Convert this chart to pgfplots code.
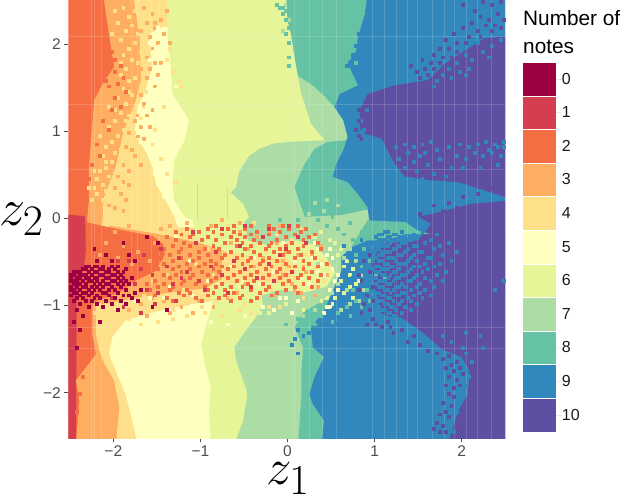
\documentclass[border=0pt]{standalone}
\usepackage{fontspec}
\setmainfont{Liberation Sans}
\usepackage{pgfplots}
\pgfplotsset{compat=1.18}
\definecolor{c0}{HTML}{9E0142}
\definecolor{c1}{HTML}{D53E4F}
\definecolor{c2}{HTML}{F46D43}
\definecolor{c3}{HTML}{FDAE61}
\definecolor{c4}{HTML}{FEE08B}
\definecolor{c5}{HTML}{FFFFBF}
\definecolor{c6}{HTML}{E6F598}
\definecolor{c7}{HTML}{ABDDA4}
\definecolor{c8}{HTML}{66C2A5}
\definecolor{c9}{HTML}{3288BD}
\definecolor{c10}{HTML}{5E4FA2}
\pgfplotsset{
  region/.style={fill=#1,draw=none,forget plot},
  % speckles are given as raster cells: 150 x 150 over -2.5..2.5
  speck/.style={only marks,mark=square*,mark size=1.45pt,color=#1,
    mark options={draw=#1,fill=#1,line width=0pt},forget plot,
    x filter/.expression={x/30-2.5+0.0167},y filter/.expression={y/30-2.5+0.0167}},
  stripe/.style={draw=white,opacity=0.16,line width=0.8pt,forget plot,unbounded coords=jump},
}
\begin{document}
\begin{tikzpicture}
\path[use as bounding box] (-68.3pt,-58pt) rectangle (555.7pt,438pt);
\begin{axis}[
  scale only axis,width=436.9pt,height=438pt,
  xmin=-2.517,xmax=2.5,ymin=-2.52,ymax=2.51,
  axis x line*=bottom,axis y line*=left,axis line style={draw=none},
  xtick={-2,-1,0,1,2},ytick={-2,-1,0,1,2},
  xticklabels={−2,−1,0,1,2},yticklabels={−2,−1,0,1,2},
  tick align=outside,major tick length=4pt,
  tick style={draw=black!70,line width=1pt},
  tick label style={font=\fontsize{15.5}{16}\selectfont,text=black!70},
  xlabel={$z_1$},ylabel={$z_2$},
  xlabel style={font=\Huge,scale=2.05,at={(axis description cs:0.503,-0.04)},anchor=north},
  ylabel style={font=\Huge,scale=2.1,rotate=-90,at={(axis description cs:-0.107,0.50)},anchor=center},
  legend style={at={(axis description cs:1.0407,0.856)},anchor=north west,draw=none,fill=none,
    inner sep=0pt,outer sep=0pt,row sep=1.1pt,
    font=\fontsize{16}{16}\selectfont,
    nodes={inner sep=0pt,anchor=west,text=black!90}},
  legend cell align=left,
  legend image code/.code={\fill[#1,draw=none] (0pt,-16.25pt) rectangle (33.5pt,16.25pt);\path[draw=none] (0pt,0pt) -- (39pt,0pt);},
]
% colour regions, painted left to right
\addplot[region=c2] coordinates {(-2.6,-2.6)(-2.6,2.6)(2.6,2.6)(2.6,-2.6)};
\addplot[region=c1] coordinates {(-2.6,0.05)(-2.33,0.03)(-2.30,-0.25)(-2.33,-0.5)(-2.42,-0.9)(-2.43,-2.6)(-2.6,-2.6)};
\addplot[region=c3] coordinates {(-2.12,2.6)(-2.05,2.12)(-1.99,1.74)(-2.12,1.55)(-2.22,1.36)(-2.25,0.97)(-2.28,0.59)(-2.28,0.21)(-2.30,0)(-2.24,-0.5)(-2.24,-1.33)(-2.2,-1.56)(-2.43,-1.86)(-2.39,-2.09)(-2.43,-2.6)(2.6,-2.6)(2.6,2.6)};
\addplot[region=c4] coordinates {(-1.78,2.6)(-1.70,2.12)(-1.68,1.59)(-1.74,1.36)(-1.89,0.97)(-1.97,0.59)(-2.12,0.21)(-2.12,0)(-2.2,-0.6)(-2.2,-1.33)(-2.16,-1.52)(-2.10,-1.67)(-1.99,-1.86)(-1.93,-2.17)(-1.97,-2.6)(2.6,-2.6)(2.6,2.6)};
\addplot[region=c5] coordinates {(-1.43,2.2)(-1.59,2.12)(-1.55,1.74)(-1.63,1.47)(-1.72,1.28)(-1.76,0.97)(-1.63,0.78)(-1.55,0.59)(-1.51,0.40)(-1.40,0.21)(-1.30,0.02)(-1.26,-0.1)(2.6,-0.1)(2.6,2.2)};
\addplot[region=c5] coordinates {(-0.82,-0.94)(-1.09,-0.98)(-1.47,-1.06)(-1.86,-1.17)(-2.01,-1.36)(-2.05,-1.56)(-1.97,-1.75)(-1.86,-2.02)(-1.78,-2.32)(-1.72,-2.6)(2.6,-2.6)(2.6,-0.94)};
\addplot[region=c6] coordinates {(-1.38,2.6)(-1.38,2.12)(-1.34,1.74)(-1.32,1.43)(-1.22,1.28)(-1.13,1.13)(-1.18,0.90)(-1.30,0.67)(-1.32,0.40)(-1.30,0.21)(-1.18,0.02)(-1.09,-0.02)(-0.86,-0.98)(-0.94,-1.25)(-0.99,-1.44)(-0.95,-1.67)(-0.88,-1.94)(-0.90,-2.21)(-0.88,-2.6)(2.6,-2.6)(2.6,2.6)};
\addplot[region=c7] coordinates {(0.43,0.90)(0.27,1.09)(0.16,1.43)(0.12,1.64)(2.6,1.64)(2.6,-2.6)(-0.61,-2.6)(-0.51,-2.32)(-0.46,-2.02)(-0.48,-1.94)(-0.59,-1.63)(-0.61,-1.48)(-0.51,-1.33)(-0.36,-1.13)(-0.28,-0.98)(-0.5,-0.05)(-0.44,0.02)(-0.51,0.17)(-0.65,0.30)(-0.59,0.36)(-0.55,0.55)(-0.44,0.72)(-0.32,0.80)(-0.17,0.86)(0.02,0.88)};
\addplot[region=c8] coordinates {(0.69,0.90)(0.46,0.88)(0.31,0.80)(0.20,0.63)(0.16,0.55)(0.08,0.36)(0.16,0.13)(0.20,0.02)(0.62,0.04)(0.89,0.10)(1.2,0.1)(1.2,0.9)};
\addplot[region=c8] coordinates {(-0.02,2.6)(0,2.28)(0.04,2.12)(0.08,1.86)(0.12,1.64)(0.29,1.53)(0.43,1.40)(0.54,1.28)(1.2,1.2)(1.2,2.6)};
\addplot[region=c8] coordinates {(0.50,-0.90)(0.20,-1.06)(0.08,-1.25)(0.18,-1.48)(0.16,-1.75)(0.16,-2.02)(0.14,-2.32)(0.12,-2.6)(1,-2.6)(1,-0.9)};
\addplot[region=c9] coordinates {(0.92,2.6)(0.89,2.35)(0.81,2.09)(0.79,1.93)(0.69,1.78)(0.73,1.70)(0.81,1.53)(0.60,1.43)(0.54,1.28)(0.64,1.13)(0.69,0.94)(0.64,0.78)(0.56,0.63)(0.52,0.48)(0.69,0.42)(0.81,0.28)(0.92,0.13)(0.96,-0.22)(0.73,-0.33)(0.62,-0.44)(0.62,-0.6)(0.42,-1.06)(0.27,-1.25)(0.29,-1.48)(0.42,-1.59)(0.31,-1.82)(0.25,-2.02)(0.29,-2.13)(0.42,-2.32)(0.39,-2.6)(2.6,-2.6)(2.6,2.6)};
\addplot[region=c10] coordinates {(2.6,2.10)(2.26,2.07)(2.04,1.93)(1.81,1.78)(1.61,1.59)(1.23,1.53)(0.92,1.43)(0.83,1.24)(0.83,1.03)(0.90,0.97)(1.08,0.92)(1.23,0.63)(1.35,0.48)(1.65,0.44)(1.96,0.42)(2.49,0.25)(2.6,0.24)};
\addplot[region=c10] coordinates {(2.6,0.21)(2.11,0.17)(1.81,0.09)(1.50,0.02)(1.65,-0.06)(1.50,-0.25)(1.08,-0.29)(0.96,-0.52)(1.0,-0.79)(1.08,-1.10)(1.33,-1.15)(1.58,-1.33)(1.77,-1.50)(2.0,-1.59)(2.09,-1.75)(2.07,-2.02)(1.96,-2.21)(1.84,-2.6)(2.6,-2.6)};
\addplot[region=c8] coordinates {(0.92,-0.02)(1.35,-0.04)(1.50,-0.14)(1.65,-0.18)(1.35,-0.18)(1.12,-0.25)(0.92,-0.25)(0.73,-0.33)};
% the note band around z2 = -0.5
\addplot[region=c6] coordinates {(-0.7,-0.2)(-0.25,-0.3)(0.1,-0.25)(0.3,-0.3)(0.45,-0.45)(0.55,-0.62)(0.45,-0.78)(0.2,-0.85)(-0.1,-0.82)(-0.35,-0.9)(-0.7,-0.85)};
\addplot[region=c3] coordinates {(-2.05,-0.08)(-1.47,-0.18)(-1.01,-0.28)(-0.71,-0.38)(-0.55,-0.48)(-0.71,-0.67)(-0.94,-0.80)(-1.36,-0.85)(-1.78,-0.92)(-2.12,-0.98)(-2.24,-0.95)};
\addplot[region=c4] coordinates {(-0.75,-0.38)(-0.3,-0.45)(0,-0.45)(0.1,-0.6)(0,-0.75)(-0.3,-0.72)(-0.75,-0.75)};
\addplot[region=c2] coordinates {(-2.32,-0.04)(-2.05,-0.10)(-1.86,-0.14)(-1.55,-0.20)(-1.43,-0.29)(-1.41,-0.41)(-1.51,-0.60)(-1.74,-0.71)(-1.93,-0.85)(-2.2,-0.95)(-2.28,-1.02)(-2.31,-0.79)};
% faint stripes of the raster
\addplot[stripe] coordinates {(-2.25,-3)(-2.25,3)(0,nan)(-2.22,-3)(-2.22,3)(0,nan)(-2.14,-3)(-2.14,3)(0,nan)(-1.79,-3)(-1.79,3)(0,nan)(-1.72,-3)(-1.72,3)(0,nan)(-1.56,-3)(-1.56,3)(0,nan)(-1.47,-3)(-1.47,3)(0,nan)(0.08,-3)(0.08,3)(0,nan)(0.25,-3)(0.25,3)(0,nan)(0.40,-3)(0.40,3)(0,nan)(0.56,-3)(0.56,3)(0,nan)(0.98,-3)(0.98,3)(0,nan)(1.11,-3)(1.11,3)(0,nan)(1.25,-3)(1.25,3)(0,nan)(1.38,-3)(1.38,3)(0,nan)(1.49,-3)(1.49,3)(0,nan)(1.66,-3)(1.66,3)(0,nan)(1.80,-3)(1.80,3)(0,nan)(1.92,-3)(1.92,3)(0,nan)(2.06,-3)(2.06,3)(0,nan)(2.18,-3)(2.18,3)(0,nan)(2.34,-3)(2.34,3)};
\addplot[stripe] coordinates {(-3,2.09)(3,2.09)(0,nan)(-3,1.31)(3,1.31)(0,nan)(-3,0.56)(3,0.56)(0,nan)(-3,-1.25)(3,-1.25)(0,nan)(-3,-1.49)(3,-1.49)};
\addplot[draw=c3,opacity=0.5,line width=0.8pt,forget plot] coordinates {(-1.03,0)(-1.03,0.4)};
\addplot[draw=c3,opacity=0.5,line width=0.8pt,forget plot] coordinates {(-0.69,0)(-0.69,0.35)};
% speckles
\addplot[speck=c4] coordinates {(18,147)(20,144)(16,142)(21,141)(19,139)(23,138)(17,136)(22,135)(20,133)(24,132)(18,131)(21,129)(23,128)(19,126)(25,125)(17,124)(22,123)(20,122)(24,120)(18,119)(26,118)(21,117)(16,116)(23,115)(19,114)(25,113)(22,112)(17,111)(20,110)(24,109)(15,108)(21,107)(13,106)(18,105)(22,104)(16,103)(20,102)(14,101)(19,100)(12,99)(17,98)(15,97)(11,96)(18,95)(14,94)(16,93)(12,92)(10,91)(15,90)(13,89)(9,88)(14,87)(11,86)(8,85)(12,84)(9,83)(13,82)(7,81)(34,133)(33,129)(35,125)(37,122)(38,120)(32,113)(29,105)(28,100)(31,95)(33,90)(36,87)(15,146)(14,138)(22,146)(17,128)(20,118)(13,113)(15,112)(19,108)(10,103)(23,100)(12,94)(8,91)(17,89)(6,85)(11,81)(16,84)};
\addplot[speck=c3] coordinates {(25,147)(28,145)(31,143)(26,142)(29,140)(32,138)(27,137)(30,135)(28,133)(26,130)(29,128)(27,126)(30,124)(26,123)(24,117)(27,118)(25,114)(23,110)(26,110)(22,108)(24,106)(20,104)(23,103)(19,99)(21,98)(18,93)(20,91)(16,89)(18,87)(15,85)(17,83)(13,79)(15,78)(33,146)(29,142)(24,139)(34,135)(31,128)(24,126)(29,120)(28,112)(27,106)(25,102)(22,96)(24,93)(20,86)(19,81)(18,77)};
\addplot[speck=c5] coordinates {(30,140)(29,137)(27,135)(31,134)(28,132)(30,130)(27,129)(32,127)(29,126)(31,123)(28,122)(33,121)(30,119)(27,118)(34,120)(36,120)(26,113)(24,110)(25,107)(23,104)(24,101)(26,98)(28,96)(30,93)(29,90)(31,88)(33,85)(32,82)};
\addplot[speck=c2] coordinates {(14,132)(15,129)(17,127)(15,125)(18,123)(16,121)(13,120)(19,118)(15,116)(17,113)(14,112)(11,108)(13,105)(9,100)(10,96)(7,93)(6,88)(12,122)(3,14)(2,8)(4,20)};
% band: cells with 3 notes over the solid part
\addplot[speck=c3] coordinates {(15,70)(20,72)(26,68)(31,71)(12,66)(18,65)(23,63)(29,66)(34,64)(10,62)(16,61)(21,59)(27,60)(32,58)(36,62)(68,70)(71,66)(74,63)(77,60)(80,58)(83,62)(86,65)(79,55)(73,55)(76,52)(79,49)(82,54)(85,51)(88,55)(70,48)(67,57)(64,68)(61,64)(58,70)(55,66)(72,72)(66,61)(63,58)(60,52)(57,49)(54,47)(77,50)(75,58)(78,62)(81,56)(76,56)(73,60)(84,48)(24,45)(28,47)(32,46)(38,44)(44,46)(49,44)(20,43)(26,41)(34,42)(42,42)(48,72)(52,74)(40,73)(34,72)(58,73)};
\addplot[speck=c4] coordinates {(25,48)(30,44)(35,43)(40,45)(45,44)(50,46)(55,47)(60,45)(65,47)(28,53)(33,55)(39,50)(43,59)(47,64)(52,68)(57,62)(61,58)(67,63)(72,59)(76,67)(70,64)(69,60)(73,57)(75,66)(81,62)(84,57)(87,53)(89,58)(78,50)(74,52)(69,50)(64,56)(56,52)(49,55)(44,70)(54,72)(63,73)(71,69)(79,71)(40,41)(46,42)(52,41)(58,43)(30,39)(24,38)(20,40)(15,37)(35,40)(62,42)(68,44)(12,40)(8,42)(17,43)(83,68)(86,60)(77,54)(80,47)(72,44)};
\addplot[speck=c5] coordinates {(22,46)(27,47)(32,47)(37,49)(42,48)(53,50)(59,53)(65,52)(70,56)(77,60)(83,61)(87,55)(90,61)(85,56)(82,52)(86,59)(88,62)(89,50)(91,53)(92,55)(47,53)(41,60)(34,51)(36,68)(55,58)(63,61)(73,66)(79,54)(74,47)(78,46)(72,47)(66,44)(60,41)(54,38)(48,39)(42,38)(38,36)(16,33)(20,35)(26,36)(85,64)(89,64)(84,66)(90,57)(92,50)(76,42)(70,43)(87,42)(88,44)(89,44)};
\addplot[speck=c6] coordinates {(70,64)(76,63)(82,58)(84,68)(92,62)(94,58)(96,55)(95,60)(93,53)(91,47)(94,49)(96,51)(98,52)(97,47)(90,45)(88,47)(86,46)(80,43)(74,45)(68,42)(65,42)(93,64)(91,66)(97,57)(89,67)(86,70)(99,53)};
\addplot[speck=c7] coordinates {(78,48)(83,47)(85,46)(87,48)(90,49)(94,61)(92,65)(88,68)(83,71)(80,72)(76,70)(85,59)(92,52)(95,50)(96,45)(93,43)(84,43)(80,41)(100,55)(98,60)(96,64)(101,50)(99,46)(84,80)(88,81)(92,79)(82,76)(87,77)(74,148)(75,143)(73,139)};
\addplot[speck=c8] coordinates {(98,62)(100,58)(97,50)(98,46)(95,44)(92,42)(86,41)(82,40)(92,71)(88,72)(85,74)(94,69)(97,67)(101,64)(103,60)(105,55)(102,50)(100,44)(96,41)(90,39)(84,38)(78,40)(74,38)(106,58)(108,54)(103,46)(105,49)(72,74)(78,74)(84,76)(90,75)(96,73)(100,70)(72,147)(73,145)(74,143)(71,148)(75,140)(74,138)(75,135)(75,130)(75,127)(74,146)(75,148)(73,147)(99,142)(98,128)};
\addplot[speck=c2] coordinates {(50,72)(56,72)(62,72)(68,72)(73,72)(78,72)(40,71)(47,71)(54,71)(60,71)(70,71)(75,71)(81,71)(36,70)(44,70)(49,70)(56,70)(64,70)(72,70)(79,70)(38,69)(42,69)(52,69)(58,69)(62,69)(68,69)(77,69)(84,69)(33,68)(41,68)(47,68)(55,68)(60,68)(66,68)(74,68)(82,68)(36,67)(45,67)(50,67)(57,67)(63,67)(71,67)(80,67)(39,66)(43,66)(53,66)(59,66)(65,66)(69,66)(76,66)(85,66)(35,65)(41,65)(49,65)(57,65)(62,65)(68,65)(74,65)(80,65)(32,64)(38,64)(46,64)(51,64)(60,64)(67,64)(72,64)(78,64)(86,64)(37,63)(44,63)(50,63)(55,63)(63,63)(70,63)(75,63)(83,63)(34,62)(41,62)(47,62)(53,62)(59,62)(65,62)(73,62)(79,62)(31,61)(38,61)(44,61)(52,61)(57,61)(62,61)(68,61)(77,61)(84,61)(35,60)(42,60)(48,60)(56,60)(61,60)(66,60)(71,60)(80,60)(32,59)(40,59)(46,59)(50,59)(59,59)(65,59)(74,59)(82,59)(88,59)(37,58)(44,58)(52,58)(56,58)(62,58)(69,58)(77,58)(85,58)(30,57)(35,57)(41,57)(49,57)(54,57)(60,57)(67,57)(72,57)(80,57)(38,56)(45,56)(51,56)(58,56)(64,56)(71,56)(76,56)(83,56)(32,55)(36,55)(42,55)(47,55)(56,55)(62,55)(68,55)(74,55)(79,55)(86,55)(34,54)(41,54)(50,54)(54,54)(60,54)(66,54)(72,54)(78,54)(82,54)(29,53)(39,53)(44,53)(48,53)(57,53)(63,53)(70,53)(75,53)(85,53)(26,52)(32,52)(38,52)(43,52)(52,52)(61,52)(66,52)(73,52)(80,52)(30,51)(35,51)(46,51)(50,51)(55,51)(59,51)(68,51)(77,51)(83,51)(27,50)(34,50)(40,50)(47,50)(53,50)(62,50)(67,50)(74,50)(37,49)(41,49)(49,49)(56,49)(65,49)(71,49)(78,49)(29,48)(39,48)(47,48)(53,48)(59,48)(69,48)(33,47)(43,47)(51,47)(58,47)(64,47)(35,46)(45,46)(55,46)(62,46)};
\addplot[speck=c1] coordinates {(20,60)(24,57)(28,55)(33,58)(38,54)(22,52)(26,50)(30,49)(35,52)(40,56)(44,53)(48,58)(52,55)(56,60)(60,57)(64,54)(68,59)(72,62)(76,56)(46,50)(54,49)(62,51)(70,53)(25,62)(31,64)(37,61)(43,66)(50,63)(58,65)(66,68)(74,64)(42,70)(52,71)(60,72)(68,71)(75,72)(18,44)(24,42)(29,45)(36,46)(12,62)(16,60)(14,47)(78,68)(81,66)};
\addplot[speck=c0] coordinates {(5,58)(6,58)(8,58)(9,58)(11,58)(14,58)(16,58)(4,57)(5,57)(7,57)(10,57)(11,57)(13,57)(15,57)(19,57)(1,56)(2,56)(3,56)(6,56)(8,56)(9,56)(12,56)(13,56)(16,56)(18,56)(0,55)(1,55)(3,55)(4,55)(5,55)(7,55)(10,55)(11,55)(14,55)(15,55)(17,55)(0,54)(2,54)(3,54)(5,54)(6,54)(8,54)(9,54)(12,54)(13,54)(16,54)(18,54)(21,54)(0,53)(1,53)(2,53)(4,53)(6,53)(7,53)(9,53)(11,53)(14,53)(15,53)(17,53)(19,53)(1,52)(2,52)(3,52)(5,52)(8,52)(10,52)(12,52)(13,52)(16,52)(18,52)(20,52)(0,51)(2,51)(4,51)(5,51)(7,51)(9,51)(11,51)(14,51)(17,51)(0,50)(1,50)(3,50)(6,50)(8,50)(10,50)(13,50)(15,50)(19,50)(24,50)(1,49)(2,49)(4,49)(5,49)(7,49)(11,49)(12,49)(16,49)(22,49)(0,48)(3,48)(6,48)(9,48)(13,48)(18,48)(20,48)(2,47)(4,47)(8,47)(10,47)(15,47)(21,47)(1,46)(5,46)(7,46)(12,46)(17,46)(23,46)(3,45)(9,45)(14,45)(19,45)(6,44)(11,44)(28,44)(2,43)(16,43)(33,43)(4,41)(1,39)(10,39)(3,36)(2,30)(9,60)(14,60)(22,60)(12,62)(20,62)(8,64)(30,66)(18,66)(26,68)};
% blue and purple mix
\addplot[speck=c9] coordinates {(94,65)(96,61)(99,59)(101,56)(97,54)(102,52)(100,48)(98,44)(95,41)(92,38)(88,40)(85,36)(82,35)(104,47)(106,44)(104,60)(107,63)(103,66)(100,67)(93,47)(90,43)(87,38)(80,34)(78,36)(77,33)(76,31)(78,28)(95,127)(96,128)(97,131)(98,134)(99,138)(102,146)(103,148)(140,135)(145,134)(148,136)(136,131)(142,132)(133,128)(138,129)(130,126)(128,124)(134,125)(126,122)(131,123)(137,126)(144,130)(125,120)(136,124)(112,99)(115,100)(118,99)(121,100)(124,101)(116,97)(120,96)(113,95)(118,94)(122,97)(126,98)(115,92)(119,91)(123,93)(127,95)(130,99)(134,100)(137,99)(140,100)(143,101)(146,100)(149,99)(133,96)(136,95)(139,97)(142,96)(145,97)(148,96)(131,92)(135,92)(141,92)(147,93)(125,90)(129,89)(117,88)(121,88)(127,86)(149,101)(147,99)(144,98)(100,108)(101,105)(102,112)
(108,70)(109,70)(114,70)(121,70)(106,69)(107,69)(111,69)(112,69)(118,69)(126,69)(105,68)(109,68)(110,68)(113,68)(119,68)(106,67)(107,67)(108,67)(112,67)(116,67)(117,67)(124,67)(104,66)(105,66)(110,66)(114,66)(115,66)(122,66)(130,66)(107,65)(108,65)(109,65)(113,65)(118,65)(119,65)(127,65)(105,64)(106,64)(111,64)(112,64)(116,64)(125,64)(104,63)(108,63)(109,63)(110,63)(115,63)(120,63)(121,63)(133,63)(106,62)(107,62)(113,62)(114,62)(118,62)(128,62)(105,61)(109,61)(110,61)(111,61)(117,61)(123,61)(124,61)(104,60)(106,60)(107,60)(112,60)(116,60)(119,60)(131,60)(108,59)(109,59)(113,59)(114,59)(115,59)(122,59)(127,59)(105,58)(106,58)(110,58)(111,58)(118,58)(120,58)(125,58)(104,57)(107,57)(108,57)(109,57)(113,57)(117,57)(123,57)(105,56)(106,56)(111,56)(112,56)(116,56)(121,56)(129,56)(107,55)(108,55)(110,55)(114,55)(115,55)(119,55)(126,55)(104,54)(105,54)(109,54)(112,54)(113,54)(118,54)(122,54)(106,53)(107,53)(108,53)(111,53)(116,53)(117,53)(124,53)(128,53)(105,52)(109,52)(110,52)(114,52)(120,52)(106,51)(107,51)(112,51)(113,51)(115,51)(119,51)(125,51)(104,50)(108,50)(109,50)(111,50)(117,50)(122,50)(105,49)(106,49)(110,49)(114,49)(115,49)(120,49)(107,48)(108,48)(112,48)(113,48)(118,48)(124,48)(105,47)(109,47)(110,47)(116,47)(121,47)(106,46)(107,46)(111,46)(114,46)(117,46)(108,45)(109,45)(113,45)(119,45)(106,44)(110,44)(111,44)(115,44)(107,43)(108,43)(112,43)(117,43)(109,42)(110,42)(114,42)(107,41)(111,41)(112,41)(109,40)(113,40)(110,39)
(136,28)(138,25)(136,22)(137,20)(136,17)(135,14)(134,11)(133,8)(131,4)(132,1)(128,34)(131,32)(135,30)};
\addplot[speck=c10] coordinates {(135,148)(142,149)(145,148)(148,149)(139,146)(147,145)(141,144)(144,143)(149,143)(138,142)(143,141)(146,141)(148,140)(135,140)(140,139)(145,139)(132,138)(137,137)(141,137)(129,136)(133,135)(136,135)(127,133)(130,133)(133,132)(125,131)(128,130)(131,130)(121,129)(124,128)(127,128)(122,126)(125,126)(119,125)(123,124)(120,123)(117,127)(126,124)(99,112)(99,108)(98,105)(99,103)(100,102)(120,76)(125,79)(130,80)(135,82)(140,83)(145,85)(128,77)(133,78)(103,62)(101,60)(99,55)(103,56)(100,53)(104,51)(102,48)(99,50)(104,46)(101,45)(103,43)(100,42)(104,40)(102,38)(105,38)(107,37)(109,39)(110,37)(111,35)(114,36)(118,34)(120,31)(116,32)(123,29)(126,28)(128,26)(130,27)(131,24)(133,25)(129,23)(132,22)(134,23)(130,20)(133,19)(135,21)(129,17)(132,16)(134,17)(130,14)(132,13)(128,11)(131,10)(129,8)(127,7)(130,6)(126,4)(128,3)(125,2)(127,1)(129,1)};
\addplot[speck=c9] coordinates {(146,50)(149,53)(141,34)(142,30)(136,35)};
% legend
\addlegendimage{fill=c0}\addlegendentry{0}
\addlegendimage{fill=c1}\addlegendentry{1}
\addlegendimage{fill=c2}\addlegendentry{2}
\addlegendimage{fill=c3}\addlegendentry{3}
\addlegendimage{fill=c4}\addlegendentry{4}
\addlegendimage{fill=c5}\addlegendentry{5}
\addlegendimage{fill=c6}\addlegendentry{6}
\addlegendimage{fill=c7}\addlegendentry{7}
\addlegendimage{fill=c8}\addlegendentry{8}
\addlegendimage{fill=c9}\addlegendentry{9}
\addlegendimage{fill=c10}\addlegendentry{10}
\end{axis}
\node[anchor=north west,inner sep=0pt,align=left,font=\fontsize{20.8}{27.5}\selectfont] at (454.7pt,427.5pt) {Number of\\notes};
\end{tikzpicture}
\end{document}
